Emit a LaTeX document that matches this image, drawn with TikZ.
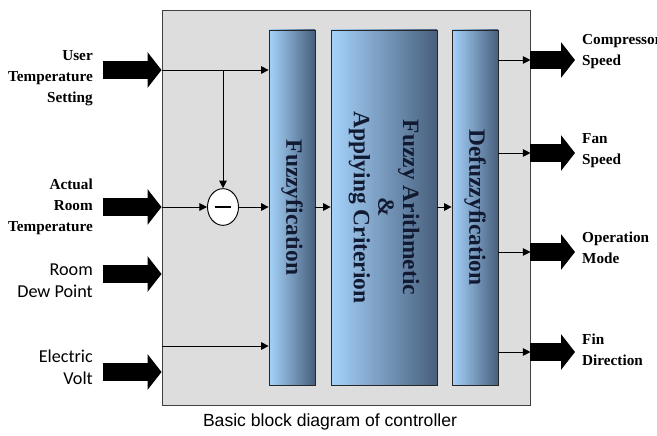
\documentclass[tikz,border=0pt]{standalone}
\usepackage{fontspec}
\setmainfont{Liberation Serif}
\newfontfamily\calfont{Carlito}
\newfontfamily\arialfont{Liberation Sans}
\usetikzlibrary{arrows.meta,calc,positioning,shapes.geometric}
\definecolor{boxgray}{RGB}{221,221,221}
\definecolor{blockL}{RGB}{165,210,250}
\definecolor{blockM}{RGB}{138,178,222}
\definecolor{blockR}{RGB}{72,95,125}
\definecolor{blocktxt}{RGB}{18,26,50}

\begin{document}
\begin{tikzpicture}[x=0.03cm,y=0.03cm,
  stage/.style={draw=black!85,line width=0.6pt,left color=blockL,middle color=blockM,right color=blockR,minimum width=1.38cm,minimum height=10.65cm,inner sep=0pt},
  stagelab/.style={rotate=-90,align=center,text=blocktxt,font=\bfseries\fontsize{20}{21}\selectfont},
  sig/.style={line width=0.8pt,-{Triangle[length=6.5pt,width=6.5pt]}},
  fat/.style={line width=0.54cm,-{Triangle[length=0.42cm,width=1.05cm]}},
  inlab/.style={anchor=east,inner sep=0pt,align=right,font=\bfseries\fontsize{13}{18}\selectfont},
  calab/.style={anchor=east,inner sep=0pt,align=right,font=\calfont\fontsize{15.5}{19}\selectfont},
  outlab/.style={anchor=west,inner sep=0pt,align=left,font=\bfseries\fontsize{13}{18}\selectfont}]
  \useasboundingbox (0,0) rectangle (657,435);
  \node[draw=black!75,line width=0.8pt,fill=boxgray,minimum width=11.04cm,minimum height=11.85cm,inner sep=0pt] (ctrl) at (346,227.5) {};
  \node[stage,label={[stagelab]center:Fuzzyfication}] (fuzz) at (292,227.5) {};
  \node[stage,minimum width=3.18cm,label={[stagelab]center:{Fuzzy Arithmetic\\\&\\Applying Criterion}}] (arith) at (384,227.5) {};
  \node[stage,label={[stagelab]center:Defuzzyfication}] (defuzz) at (475,227.5) {};
  \node[draw,line width=0.8pt,fill=white,ellipse,minimum width=0.93cm,minimum height=1.1cm,inner sep=0pt] (sub) at (223,228) {\rule{0.5cm}{2pt}};

  \coordinate (uin) at (103,365); \coordinate (rin) at (103,228); \coordinate (din) at (103,161); \coordinate (vin) at (103,63);
  \foreach \p in {uin,rin,din,vin} \draw[fat] (\p) -- (\p -| ctrl.west);
  \coordinate (tap) at (sub |- uin); \coordinate (vline) at (162,89);
  \draw[sig] (ctrl.west |- uin) -- (fuzz.west |- uin); \draw[sig] (tap) -- (sub.north);
  \draw[sig] (ctrl.west |- sub) -- (sub.west); \draw[sig] (sub.east) -- (fuzz.west |- sub);
  \draw[sig] (vline) -- (vline -| fuzz.west);
  \draw[sig] (fuzz.east |- sub) -- (arith.west |- sub); \draw[sig] (arith.east |- sub) -- (defuzz.west |- sub);
  \foreach \y/\nm in {375/cs,282/fs,183/om,83/fd} {
    \coordinate (\nm) at (575,\y);
    \draw[sig] (defuzz.east |- \nm) -- (ctrl.east |- \nm); \draw[fat] (ctrl.east |- \nm) -- (\nm);
  }

  \node[inlab] (luts) at (93,357) {User\\Temperature\\Setting};
  \node[inlab] (lart) at (93,228) {Actual\\Room\\Temperature};
  \node[calab] (lrdp) at (93,154) {Room\\Dew Point};
  \node[calab] (lev) at (93,68) {Electric\\Volt};
  \node[outlab] (lcs) at (582,383) {Compressor\\Speed};
  \node[outlab] (lfs) at (582,284) {Fan\\Speed};
  \node[outlab] (lom) at (582,187) {Operation\\Mode};
  \node[outlab] (lfd) at (582,85) {Fin\\Direction};
  \node[font=\arialfont\fontsize{15}{18}\selectfont] (cap) at (330,13) {Basic block diagram of controller};
\end{tikzpicture}
\end{document}
